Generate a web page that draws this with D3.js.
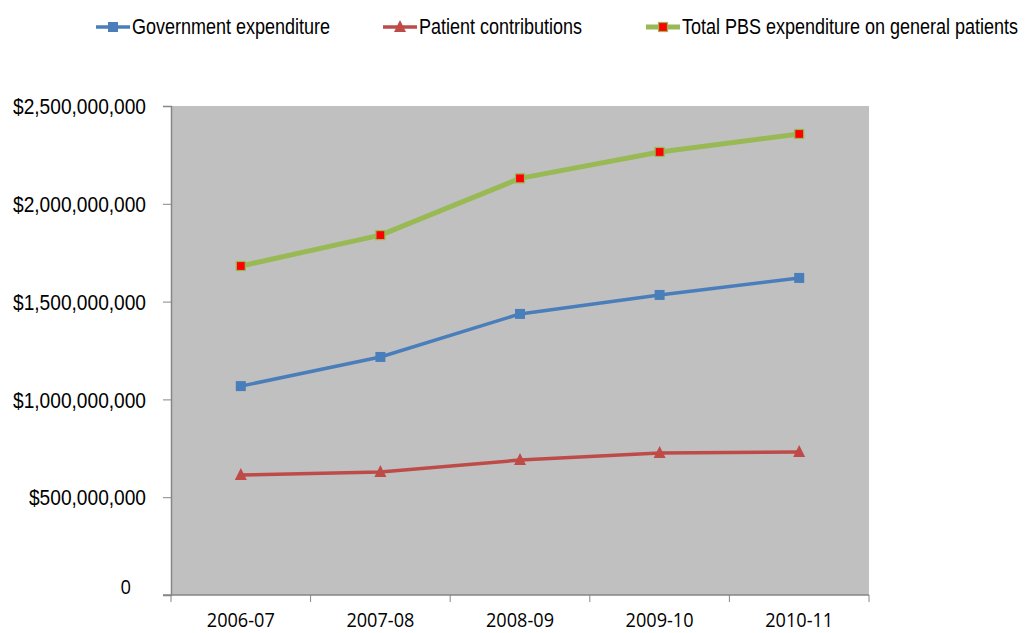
<!DOCTYPE html>
<html>
<head>
<meta charset="utf-8">
<script src="https://cdn.jsdelivr.net/npm/d3@7"></script>
<style>
  body { margin: 0; background: #fff; }
  svg { display: block; }
</style>
</head>
<body>
<svg id="chart"></svg>
<script>
// chart data
var years = ["2006-07", "2007-08", "2008-09", "2009-10", "2010-11"];
var government = [1068000000, 1217000000, 1437000000, 1534000000, 1621000000];
var patient = [613000000, 629000000, 690000000, 726000000, 731000000];
var total = [1682000000, 1840000000, 2130000000, 2265000000, 2357000000];
var yTicks = [0, 500000000, 1000000000, 1500000000, 2000000000, 2500000000];

var seriesList = [
  { name: "Government expenditure", values: government, color: "#4a7ebb", marker: "square" },
  { name: "Patient contributions", values: patient, color: "#be4b48", marker: "triangle" },
  { name: "Total PBS expenditure on general patients", values: total, color: "#98b954", marker: "redsquare" }
];

var width = 1025, height = 633;
var svg = d3.select("#chart").attr("width", width).attr("height", height);

// plot area (avoid the name "top", it is window.top)
var plotLeft = 171, plotRight = 869, plotTop = 106, plotBottom = 595;
var narrowFont = "'Liberation Sans', Arial, sans-serif";
var squeeze = 0.87;

var x = d3.scaleBand().domain(years).range([plotLeft, plotRight]);
var y = d3.scaleLinear().domain([0, 2500000000]).range([plotBottom, plotTop]);

svg.append("rect")
  .attr("x", plotLeft).attr("y", plotTop)
  .attr("width", plotRight - plotLeft).attr("height", plotBottom - plotTop)
  .attr("fill", "#c0c0c0");

// y axis
var yAxis = d3.axisLeft(y).tickValues(yTicks).tickSize(8)
  .tickFormat(function (d) { return d === 0 ? "0" : "$" + d3.format(",")(d); });
var gy = svg.append("g").attr("transform", "translate(" + plotLeft + ",0)").call(yAxis);
gy.select(".domain").attr("stroke", "#868686").attr("stroke-width", 1.5);
gy.selectAll(".tick line").attr("stroke", "#868686");
gy.selectAll(".tick text")
  .attr("font-family", narrowFont).attr("font-size", 22).attr("fill", "#000")
  .attr("x", -25 / squeeze).attr("dy", "0.35em")
  .attr("transform", "scale(" + squeeze + ",1)");
gy.selectAll(".tick").filter(function (d) { return d === 0; }).select("text")
  .attr("font-family", "'Open Sans', sans-serif").attr("font-size", 20)
  .attr("transform", "scale(0.92,1)").attr("x", -40 / 0.92).attr("dy", "-0.1em");

// x axis
var gx = svg.append("g").attr("transform", "translate(0," + plotBottom + ")");
gx.append("line").attr("x1", plotLeft - 8).attr("x2", plotRight).attr("y1", 0).attr("y2", 0)
  .attr("stroke", "#868686").attr("stroke-width", 1.5);
var bounds = years.map(function (d) { return x(d); }).concat([plotRight]);
gx.selectAll(".xtick").data(bounds).enter().append("line")
  .attr("x1", function (d) { return d; }).attr("x2", function (d) { return d; })
  .attr("y1", 0).attr("y2", 7).attr("stroke", "#868686");
gx.selectAll(".xlabel").data(years).enter().append("text")
  .attr("x", function (d) { return (x(d) + x.bandwidth() / 2) / 0.93; })
  .attr("y", 32)
  .attr("transform", "scale(0.93,1)")
  .attr("text-anchor", "middle")
  .attr("font-family", "'Open Sans', sans-serif")
  .attr("font-size", 19.5)
  .attr("fill", "#000")
  .text(function (d) { return d; });

var line = d3.line()
  .x(function (d, i) { return x(years[i]) + x.bandwidth() / 2; })
  .y(function (d) { return y(d); });

function drawMarker(g, s, cx, cy) {
  if (s.marker === "square") {
    g.append("rect").attr("x", cx - 5).attr("y", cy - 5).attr("width", 10).attr("height", 10)
      .attr("fill", s.color);
  } else if (s.marker === "triangle") {
    g.append("path").attr("d", "M" + cx + "," + (cy - 7) + "L" + (cx + 6) + "," + (cy + 5) + "L" + (cx - 6) + "," + (cy + 5) + "Z")
      .attr("fill", s.color);
  } else {
    g.append("rect").attr("x", cx - 4.5).attr("y", cy - 4.5).attr("width", 9).attr("height", 9)
      .attr("fill", "#ff0000").attr("stroke", s.color).attr("stroke-width", 1.2);
  }
}

// series
seriesList.forEach(function (s) {
  var g = svg.append("g");
  g.append("path").datum(s.values)
    .attr("d", line)
    .attr("fill", "none")
    .attr("stroke", s.color)
    .attr("stroke-width", s.marker === "redsquare" ? 5 : 3.5)
    .attr("stroke-linejoin", "round");
  s.values.forEach(function (v, i) {
    drawMarker(g, s, x(years[i]) + x.bandwidth() / 2, y(v));
  });
});

// legend
var legendX = [96, 383, 646];
var legendSqueeze = 0.8;
seriesList.forEach(function (s, i) {
  var g = svg.append("g").attr("transform", "translate(" + legendX[i] + ",27)");
  g.append("line").attr("x1", 0).attr("x2", 34).attr("y1", 0).attr("y2", 0)
    .attr("stroke", s.color).attr("stroke-width", s.marker === "redsquare" ? 5 : 3.5);
  drawMarker(g, s, 17, 0);
  g.append("text")
    .attr("font-family", narrowFont)
    .attr("transform", "scale(" + legendSqueeze + ",1)")
    .attr("x", 36 / legendSqueeze).attr("y", 7)
    .attr("font-size", 22.5).attr("fill", "#000")
    .text(s.name);
});
</script>
</body>
</html>
